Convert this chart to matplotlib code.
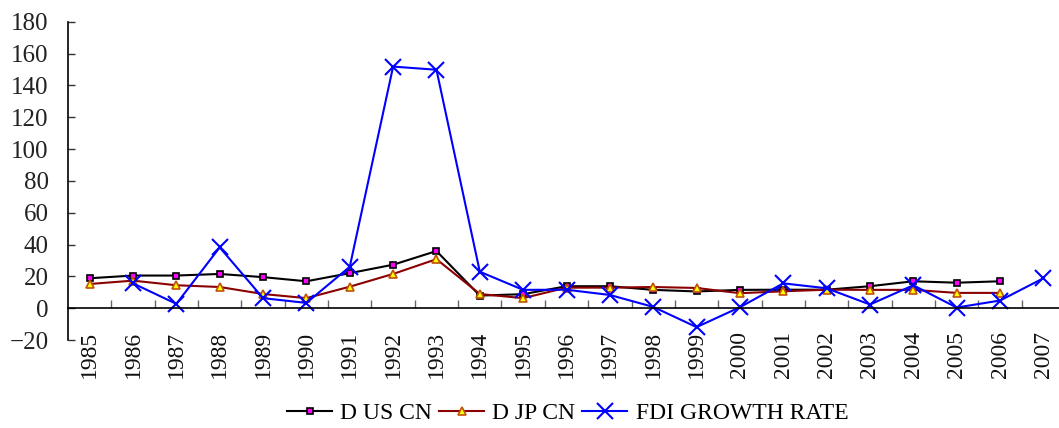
import numpy as np
import matplotlib.pyplot as plt
from matplotlib.ticker import FixedLocator

plt.rcParams['font.family'] = ['Liberation Serif', 'DejaVu Serif']

years = [str(y) for y in range(1985, 2008)]

d_us_cn = [18.8, 20.5, 20.5, 21.5, 19.5, 16.9, 22.0, 27.3, 35.9, 7.9, 8.8,
           13.8, 13.8, 11.5, 10.5, 11.5, 11.6, 11.6, 13.8, 16.9, 16.0, 16.9, np.nan]
d_jp_cn = [15.2, 17.3, 14.4, 13.3, 8.9, 6.3, 13.5, 21.5, 30.8, 8.9, 6.3,
           12.9, 12.9, 13.3, 12.7, 9.4, 10.6, 11.6, 11.5, 11.5, 9.6, 9.6, np.nan]
fdi_growth = [np.nan, 15.6, 2.7, 38.2, 6.3, 3.3, 26.0, 151.8, 149.8, 22.9, 11.5,
              11.6, 8.3, 0.8, -11.9, 0.6, 15.6, 12.5, 2.3, 14.4, 0.4, 4.8, 18.8]

x = np.arange(len(years))

fig = plt.figure(figsize=(10.59, 4.28), dpi=100)
ax = fig.add_axes([0.0642, 0.2056, 0.9415, 0.7437])

ax.plot(x, d_us_cn, color='black', lw=1.5, marker='s', ms=5,
        mfc='#FF00FF', mec='black', mew=1.2, label='D US CN')
ax.plot(x, d_jp_cn, color='#8B0000', lw=1.5, marker='^', ms=6,
        mfc='#FFFF00', mec='#C0500A', mew=1.2, label='D JP CN')
ax.plot(x, fdi_growth, color='#0000FF', lw=1.5, marker='x', ms=11,
        mew=1.5, label='FDI GROWTH RATE')

ax.set_xlim(-0.5, len(years) - 0.5)
ax.set_ylim(-20, 180)
ax.set_yticks(np.arange(-20, 181, 20))

# category axis sits on the zero line, ticks between categories
ax.spines['bottom'].set_position(('data', 0))
ax.spines['bottom'].set_linewidth(1.2)
ax.spines['left'].set_linewidth(1.2)
ax.spines['top'].set_visible(False)
ax.spines['right'].set_visible(False)

ax.set_xticks(x)
ax.set_xticklabels(years, rotation=90, fontsize=17)
ax.xaxis.set_minor_locator(FixedLocator(x[:-1] + 0.5))
ax.tick_params(axis='x', which='major', length=0, pad=16.5, colors='#111111')
ax.tick_params(axis='x', which='minor', direction='in', length=6,
               width=1.0, color='#666666')
ax.tick_params(axis='y', direction='in', length=5, width=1.0,
               color='#333333', labelsize=18, pad=14, labelcolor='#222222')

fig.legend(loc='center', bbox_to_anchor=(0.536, 0.035), ncol=3,
           frameon=False, fontsize=17, handlelength=1.9,
           handletextpad=0.35, columnspacing=0.3)

fig.savefig('out.png', dpi=100)
